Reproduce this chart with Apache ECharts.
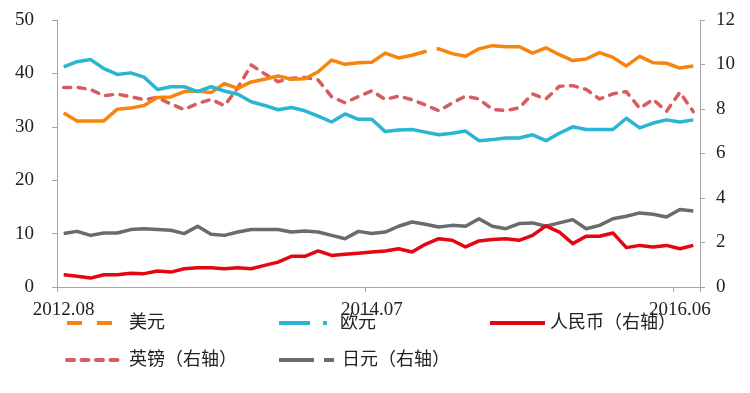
<!DOCTYPE html>
<html>
<head>
<meta charset="utf-8">
<script src="https://cdn.jsdelivr.net/npm/echarts@6/dist/echarts.min.js"></script>
<style>
html,body{margin:0;padding:0;background:#fff;}
#c{width:750px;height:393px;}
</style>
</head>
<body>
<div id="c"></div>
<script>
const categories = [
  '2012.08','2012.09','2012.10','2012.11','2012.12',
  '2013.01','2013.02','2013.03','2013.04','2013.05','2013.06','2013.07','2013.08','2013.09','2013.10','2013.11','2013.12',
  '2014.01','2014.02','2014.03','2014.04','2014.05','2014.06','2014.07','2014.08','2014.09','2014.10','2014.11','2014.12',
  '2015.01','2015.02','2015.03','2015.04','2015.05','2015.06','2015.07','2015.08','2015.09','2015.10','2015.11','2015.12',
  '2016.01','2016.02','2016.03','2016.04','2016.05','2016.06','2016.07'
];
// 美元 (left axis)
const usd = [32.6,31.1,31.1,31.1,33.3,33.5,34.0,35.5,35.6,36.6,36.7,36.4,38.1,37.2,38.4,38.9,39.5,38.9,39.0,40.3,42.5,41.7,42.0,42.1,
             43.8,42.9,43.4,44.1,44.6,43.7,43.2,44.6,45.2,45.0,45.0,43.8,44.8,43.5,42.4,42.7,43.9,43.0,41.4,43.2,42.0,41.9,41.0,41.4];
// 欧元 (left axis)
const eur = [41.2,42.2,42.6,40.9,39.8,40.1,39.3,37.0,37.5,37.5,36.6,37.5,36.7,36.1,34.7,34.0,33.2,33.6,33.0,32.0,30.9,32.4,31.4,31.4,
             29.1,29.4,29.5,29.0,28.5,28.8,29.2,27.4,27.6,27.9,27.9,28.5,27.4,28.8,30.0,29.5,29.5,29.5,31.6,29.8,30.7,31.3,30.9,31.3];
// 人民币 (right axis)
const cny = [0.55,0.48,0.40,0.55,0.55,0.62,0.60,0.72,0.67,0.82,0.86,0.87,0.82,0.86,0.82,0.97,1.12,1.38,1.38,1.62,1.42,1.47,1.52,1.57,
             1.62,1.72,1.57,1.92,2.17,2.10,1.80,2.07,2.13,2.17,2.10,2.32,2.75,2.47,1.95,2.28,2.28,2.43,1.77,1.87,1.80,1.87,1.72,1.87];
// 英镑 (right axis)
const gbp = [8.97,8.97,8.88,8.60,8.67,8.55,8.42,8.52,8.22,7.98,8.25,8.43,8.15,8.95,9.98,9.58,9.23,9.38,9.42,9.30,8.55,8.28,8.56,8.82,
             8.43,8.58,8.42,8.18,7.92,8.27,8.58,8.45,7.98,7.93,8.05,8.68,8.45,9.02,9.05,8.88,8.45,8.68,8.78,8.03,8.43,7.90,8.75,7.88];
// 日元 (right axis)
const jpy = [2.40,2.50,2.32,2.43,2.43,2.58,2.62,2.58,2.55,2.40,2.73,2.37,2.32,2.47,2.58,2.58,2.58,2.47,2.52,2.47,2.32,2.17,2.50,2.40,
             2.47,2.73,2.92,2.82,2.70,2.77,2.73,3.07,2.73,2.62,2.85,2.88,2.73,2.88,3.03,2.62,2.77,3.07,3.18,3.33,3.27,3.15,3.48,3.42];
const leftTicks = {min:0, max:50, interval:10};
const rightTicks = {min:0, max:12, interval:2};

const names = ['美元','欧元','人民币（右轴）','英镑（右轴）','日元（右轴）'];
const colors = ['#f7840f','#2ab5d2','#e30613','#d65c5f','#6b6b6b'];
const FONT = "'Liberation Serif', 'Noto Sans CJK SC', serif";
const axisColor = '#a6a6a6';

function legend(name, left, top, width, dashType, padLeft){
  return {
    data:[name], left:left, top:top, padding:0, orient:'horizontal',
    itemWidth:width, itemHeight:18, itemGap:0,
    lineStyle:{width:4, type:dashType, cap: (name==='英镑（右轴）'?'round':'butt')},
    itemStyle:{color:'rgba(0,0,0,0)', borderColor:'rgba(0,0,0,0)', borderWidth:0, opacity:0},
    textStyle:{fontFamily:FONT, fontSize:18, color:'#222', padding:[2,0,0,padLeft]},
    selectedMode:false
  };
}

const chart = echarts.init(document.getElementById('c'), null, {renderer:'canvas'});
const option = {
  animation:false,
  backgroundColor:'#fff',
  grid:{left:57, right:50, top:20, bottom:106, containLabel:false},
  legend:[
    legend(names[0], 65, 314, 45, [15,15,15,200], 12),
    legend(names[1], 277, 314, 48, [31,13,4,200], 8),
    legend(names[2], 488, 314, 55, 'solid', 0),
    legend(names[3], 65, 351, 55, [7,7.5], 2),
    legend(names[4], 277, 351, 55, [35,10,10,200], 3)
  ],
  xAxis:{
    type:'category', data:categories, boundaryGap:true,
    axisLine:{show:true, lineStyle:{color:axisColor, width:1}},
    axisTick:{show:true, interval:22, length:5, lineStyle:{color:axisColor}},
    axisLabel:{interval:22, margin:14, fontFamily:FONT, fontSize:19, color:'#222'},
    splitLine:{show:false}
  },
  yAxis:[
    {type:'value', min:leftTicks.min, max:leftTicks.max, interval:leftTicks.interval, position:'left',
     axisLine:{show:true, lineStyle:{color:axisColor, width:1}},
     axisTick:{show:true, length:5, lineStyle:{color:axisColor}},
     axisLabel:{margin:23, fontFamily:FONT, fontSize:19, color:'#222'},
     splitLine:{show:false}},
    {type:'value', min:rightTicks.min, max:rightTicks.max, interval:rightTicks.interval, position:'right',
     axisLine:{show:true, lineStyle:{color:axisColor, width:1}},
     axisTick:{show:true, length:5, lineStyle:{color:axisColor}},
     axisLabel:{margin:16, fontFamily:FONT, fontSize:19, color:'#222'},
     splitLine:{show:false}}
  ],
  series:[
    {id:'usd', name:names[0], type:'line', yAxisIndex:0, data:usd, symbol:'none', color:colors[0],
     lineStyle:{width:3.5, color:colors[0], join:'round'}, z:3},
    {id:'eur', name:names[1], type:'line', yAxisIndex:0, data:eur, symbol:'none', color:colors[1],
     lineStyle:{width:3.5, color:colors[1], join:'round'}, z:3},
    {id:'cny', name:names[2], type:'line', yAxisIndex:1, data:cny, symbol:'none', color:colors[2],
     lineStyle:{width:3.5, color:colors[2], join:'round'}, z:4},
    {id:'gbp', name:names[3], type:'line', yAxisIndex:1, data:gbp, symbol:'none', color:colors[3],
     lineStyle:{width:3.5, color:colors[3], type:[7,7.5], cap:'round', join:'round'}, z:2},
    {id:'jpy', name:names[4], type:'line', yAxisIndex:1, data:jpy, symbol:'none', color:colors[4],
     lineStyle:{width:3.5, color:colors[4], join:'round'}, z:3}
  ]
};
chart.setOption(option);

// The 美元 line is a very long dash with a single gap (as in the source); compute its dash length.
(function(){
  const p = usd.slice(0, 29).map((v,i)=>chart.convertToPixel({xAxisIndex:0, yAxisIndex:0}, [i, v]));
  const d = (a,b)=>Math.hypot(b[0]-a[0], b[1]-a[1]);
  let L = 0;
  for (let i = 1; i <= 27; i++) L += d(p[i-1], p[i]);
  const seg = d(p[27], p[28]);
  const dash = L + seg * 0.09;
  const gap = seg * 0.75;
  chart.setOption({series:[{id:'usd', lineStyle:{type:[dash, gap, 100000, 1]}}]});
})();
</script>
</body>
</html>
